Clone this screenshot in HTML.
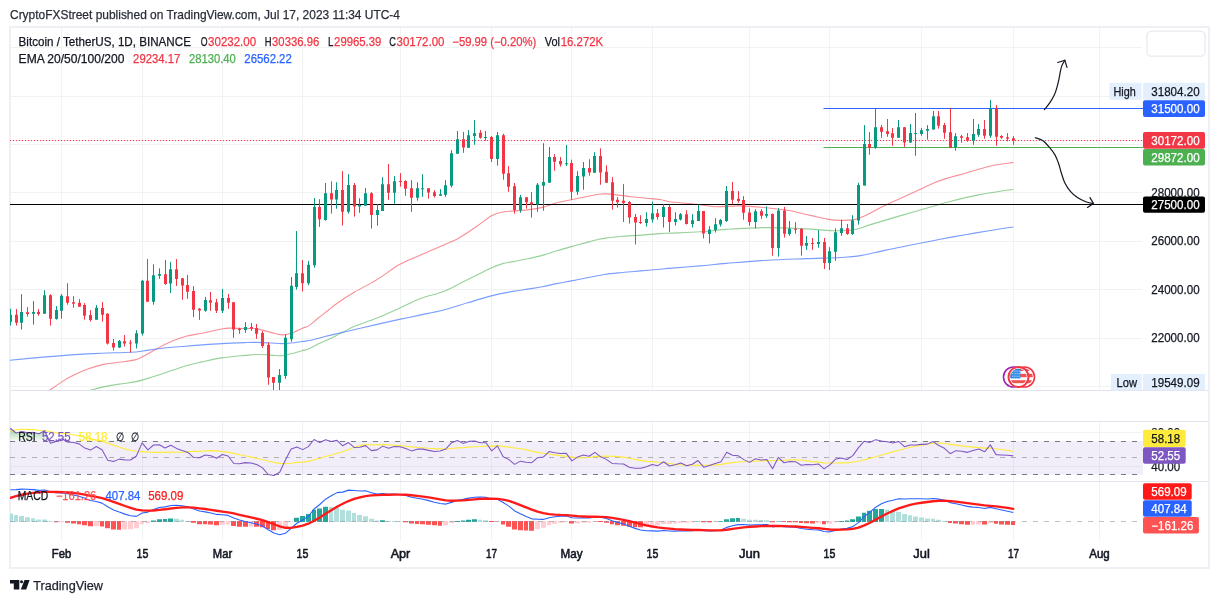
<!DOCTYPE html>
<html><head><meta charset="utf-8"><title>BTCUSDT chart</title>
<style>html,body{margin:0;padding:0;background:#fff;}body{width:1219px;height:603px;overflow:hidden;font-family:"Liberation Sans",sans-serif;}svg{display:block;will-change:transform;}</style></head>
<body>
<svg width="1219" height="603" viewBox="0 0 1219 603" font-family="Liberation Sans, sans-serif">
<rect width="1219" height="603" fill="#fff"/>
<defs><clipPath id="c1"><rect x="10" y="27" width="1133" height="363"/></clipPath><clipPath id="c2"><rect x="10" y="421" width="1133" height="60"/></clipPath><clipPath id="c3"><rect x="10" y="481.5" width="1133" height="58.5"/></clipPath><linearGradient id="gg" x1="0" y1="0" x2="0" y2="1"><stop offset="0" stop-color="#4caf50" stop-opacity="0.55"/><stop offset="1" stop-color="#4caf50" stop-opacity="0.05"/></linearGradient></defs>
<rect x="10" y="27" width="1199" height="541" fill="none" stroke="#eef0f5" stroke-width="2"/>
<path d="M61.5,27V390M61.5,421V481M61.5,481.5V540M142.5,27V390M142.5,421V481M142.5,481.5V540M222.5,27V390M222.5,421V481M222.5,481.5V540M302.5,27V390M302.5,421V481M302.5,481.5V540M400.5,27V390M400.5,421V481M400.5,481.5V540M491.5,27V390M491.5,421V481M491.5,481.5V540M571.5,27V390M571.5,421V481M571.5,481.5V540M652.5,27V390M652.5,421V481M652.5,481.5V540M749.5,27V390M749.5,421V481M749.5,481.5V540M829.5,27V390M829.5,421V481M829.5,481.5V540M921.5,27V390M921.5,421V481M921.5,481.5V540M1013.5,27V390M1013.5,421V481M1013.5,481.5V540M1099.5,27V390M1099.5,421V481M1099.5,481.5V540M11,47.5H1142M11,96.5H1142M11,144.5H1142M11,192.5H1142M11,241.5H1142M11,289.5H1142M11,338.5H1142M11,386.5H1142M11,432.5H1142M11,466.5H1142" stroke="#f1f2f2" stroke-width="1" fill="none"/>
<path d="M11,390.5H1208M11,421.5H1208M11,481.5H1208" stroke="#e0e3eb" stroke-width="1" fill="none"/>
<g clip-path="url(#c1)">
<path d="M49.3,390.5C51.43,389.02 58,384.17 62.1,381.6C66.2,379.03 69.63,377.18 73.9,375.1C78.17,373.02 82.78,370.88 87.7,369.1C92.62,367.32 98.15,365.53 103.4,364.4C108.65,363.27 113.93,363.05 119.2,362.3C124.47,361.55 131.07,360.87 135,359.9C138.93,358.93 139.53,358.13 142.8,356.5C146.07,354.87 150.33,352.38 154.6,350.1C158.87,347.82 163.15,345.1 168.4,342.8C173.65,340.5 180.52,337.88 186.1,336.3C191.68,334.72 195.98,334.52 201.9,333.3C207.82,332.08 217.02,329.87 221.6,329C226.18,328.13 225.5,328.18 229.4,328.1C233.3,328.02 240.4,328.37 245,328.5C249.6,328.63 252.67,328.25 257,328.9C261.33,329.55 266.83,331.4 271,332.4C275.17,333.4 278.67,334.75 282,334.9C285.33,335.05 287.67,334.38 291,333.3C294.33,332.22 299,329.68 302,328.4C305,327.12 306.33,327.3 309,325.6C311.67,323.9 314.73,320.8 318,318.2C321.27,315.6 325.4,312.5 328.6,310C331.8,307.5 332.87,306.2 337.2,303.2C341.53,300.2 347.97,295.93 354.6,292C361.23,288.07 369.53,284.17 377,279.6C384.47,275.03 392.23,268.67 399.4,264.6C406.57,260.53 412.62,258.47 420,255.2C427.38,251.93 437.33,247.8 443.7,245C450.07,242.2 452.73,241.48 458.2,238.4C463.67,235.32 471.02,230.23 476.5,226.5C481.98,222.77 487.15,218.33 491.1,216C495.05,213.67 496.55,213.33 500.2,212.5C503.85,211.67 508.73,211.4 513,211C517.27,210.6 520.93,210.7 525.8,210.1C530.67,209.5 537.03,208.62 542.2,207.4C547.37,206.18 551.93,204.08 556.8,202.8C561.67,201.52 566.53,200.7 571.4,199.7C576.27,198.7 581.43,197.72 586,196.8C590.57,195.88 595.47,194.68 598.8,194.2C602.13,193.72 603.27,193.83 606,193.9C608.73,193.97 610.93,194.12 615.2,194.6C619.47,195.08 626.43,196.2 631.6,196.8C636.77,197.4 641.47,197.75 646.2,198.2C650.93,198.65 655.72,198.87 660,199.5C664.28,200.13 665.23,201.15 671.9,202C678.57,202.85 692.67,203.82 700,204.6C707.33,205.38 709.27,206.48 715.9,206.7C722.53,206.92 731.4,205.73 739.8,205.9C748.2,206.07 758.33,206.97 766.3,207.7C774.27,208.43 780.08,208.98 787.6,210.3C795.12,211.62 804.77,214.13 811.4,215.6C818.03,217.07 822.53,218.3 827.4,219.1C832.27,219.9 836.18,220.32 840.6,220.4C845.02,220.48 849.92,220.32 853.9,219.6C857.88,218.88 859.2,218.53 864.5,216.1C869.8,213.67 877.73,208.83 885.7,205C893.67,201.17 903.45,197.08 912.3,193.1C921.15,189.12 929.97,184.42 938.8,181.1C947.63,177.78 956.45,175.77 965.3,173.2C974.15,170.63 983.9,167.5 991.9,165.7C999.9,163.9 1009.73,162.95 1013.3,162.4" stroke="#f23645" stroke-opacity="0.56" stroke-width="1.1" fill="none"/>
<path d="M89.7,390.5C91.98,389.9 98.48,387.97 103.4,386.9C108.32,385.83 113.93,384.93 119.2,384.1C124.47,383.27 130.4,382.82 135,381.9C139.6,380.98 142.22,379.97 146.8,378.6C151.38,377.23 155.95,375.83 162.5,373.7C169.05,371.57 179.53,367.77 186.1,365.8C192.67,363.83 195.98,363.22 201.9,361.9C207.82,360.58 214.42,358.98 221.6,357.9C228.78,356.82 239.1,355.97 245,355.4C250.9,354.83 252.67,354.55 257,354.5C261.33,354.45 266.83,354.88 271,355.1C275.17,355.32 278.67,356.02 282,355.8C285.33,355.58 287.67,354.63 291,353.8C294.33,352.97 299,351.63 302,350.8C305,349.97 306.33,349.93 309,348.8C311.67,347.67 314.95,345.47 318,344C321.05,342.53 323.27,341.92 327.3,340C331.33,338.08 337.65,334.78 342.2,332.5C346.75,330.22 348.8,328.7 354.6,326.3C360.4,323.9 369.53,321.12 377,318.1C384.47,315.08 392.23,311.43 399.4,308.2C406.57,304.97 412.62,301.5 420,298.7C427.38,295.9 436.72,294.08 443.7,291.4C450.68,288.72 456.43,285.28 461.9,282.6C467.37,279.92 471.63,277.73 476.5,275.3C481.37,272.87 486.85,269.9 491.1,268C495.35,266.1 498.35,264.97 502,263.9C505.65,262.83 508.73,262.45 513,261.6C517.27,260.75 522.73,259.83 527.6,258.8C532.47,257.77 537.33,256.73 542.2,255.4C547.07,254.07 551.93,252.27 556.8,250.8C561.67,249.33 566.53,247.97 571.4,246.6C576.27,245.23 581.43,243.82 586,242.6C590.57,241.38 595.15,240.1 598.8,239.3C602.45,238.5 603.95,238.32 607.9,237.8C611.85,237.28 617.03,236.65 622.5,236.2C627.97,235.75 634.45,235.53 640.7,235.1C646.95,234.67 654.8,233.93 660,233.6C665.2,233.27 665.23,233.4 671.9,233.1C678.57,232.8 690.9,232.42 700,231.8C709.1,231.18 715.45,230.1 726.5,229.4C737.55,228.7 753.03,227.68 766.3,227.6C779.57,227.52 795.03,228.38 806.1,228.9C817.17,229.42 824.73,230.57 832.7,230.7C840.67,230.83 847.72,230.67 853.9,229.7C860.08,228.73 862.28,227.17 869.8,224.9C877.32,222.63 889.72,218.83 899,216.1C908.28,213.37 916.67,211.02 925.5,208.5C934.33,205.98 943.15,203.27 952,201C960.85,198.73 968.38,196.87 978.6,194.9C988.82,192.93 1007.52,190.15 1013.3,189.2" stroke="#4caf50" stroke-opacity="0.58" stroke-width="1.1" fill="none"/>
<path d="M9.9,360.3C14,359.9 25.8,358.68 34.5,357.9C43.2,357.12 52.25,356.32 62.1,355.6C71.95,354.88 82.12,354.17 93.6,353.6C105.08,353.03 122.8,352.63 131,352.2C139.2,351.77 138.2,351.58 142.8,351C147.4,350.42 152.03,349.45 158.6,348.7C165.17,347.95 174.98,347.13 182.2,346.5C189.42,345.87 195.33,345.38 201.9,344.9C208.47,344.42 214.42,343.98 221.6,343.6C228.78,343.22 239.1,342.8 245,342.6C250.9,342.4 252.67,342.33 257,342.4C261.33,342.47 266.83,342.8 271,343C275.17,343.2 278.67,343.6 282,343.6C285.33,343.6 287.67,343.35 291,343C294.33,342.65 298.45,342 302,341.5C305.55,341 308.47,340.83 312.3,340C316.13,339.17 320.02,337.75 325,336.5C329.98,335.25 333.53,334.52 342.2,332.5C350.87,330.48 367.47,326.58 377,324.4C386.53,322.22 392.23,320.95 399.4,319.4C406.57,317.85 412.62,316.67 420,315.1C427.38,313.53 435.77,312.05 443.7,310C451.63,307.95 459.65,305.15 467.6,302.8C475.55,300.45 483.88,297.8 491.4,295.9C498.92,294 506.37,292.57 512.7,291.4C519.03,290.23 524.48,289.67 529.4,288.9C534.32,288.13 537.63,287.68 542.2,286.8C546.77,285.92 551.93,284.58 556.8,283.6C561.67,282.62 566.53,281.83 571.4,280.9C576.27,279.97 580.53,279.07 586,278C591.47,276.93 598.12,275.42 604.2,274.5C610.28,273.58 616.42,273.1 622.5,272.5C628.58,271.9 634.45,271.45 640.7,270.9C646.95,270.35 654.8,269.67 660,269.2C665.2,268.73 665.23,268.65 671.9,268.1C678.57,267.55 690.9,266.68 700,265.9C709.1,265.12 715.45,264.35 726.5,263.4C737.55,262.45 753.03,261 766.3,260.2C779.57,259.4 793.72,259.05 806.1,258.6C818.48,258.15 831.75,257.95 840.6,257.5C849.45,257.05 851.68,257.13 859.2,255.9C866.72,254.67 876.85,251.95 885.7,250.1C894.55,248.25 903.45,246.57 912.3,244.8C921.15,243.03 929.97,241.18 938.8,239.5C947.63,237.82 956.45,236.25 965.3,234.7C974.15,233.15 983.9,231.48 991.9,230.2C999.9,228.92 1009.73,227.53 1013.3,227" stroke="#2962ff" stroke-opacity="0.62" stroke-width="1.1" fill="none"/>
<path d="M10,204.5H1143" stroke="#000" stroke-width="1.1"/>
<path d="M823.5,108.5H1143" stroke="#2962ff" stroke-width="1.1"/>
<path d="M823.5,147.5H1143" stroke="#4caf50" stroke-width="1.1"/>
<path d="M10,140.5H1143" stroke="#f23645" stroke-width="1.2" stroke-dasharray="1.3 1.7" stroke-dashoffset="0.15"/>
<path d="M10.5,308.71V325.62M21.5,294.18V329.6M33.5,301.14V324.63M44.5,290.2V313.68M56.5,306.12V319.65M61.5,294.18V318.66M96.5,305.12V319.65M119.5,339.95V347.91M136.5,330.2V348.51M142.5,279.85V335.57M153.5,264.33V304.73M159.5,268.31V278.86M170.5,261.89V293.07M205.5,296.88V311.81M222.5,288.92V312.97M245.5,322.09V332.87M279.5,369.14V391.57M285.5,334.2V378.92M291.5,277.06V341.74M296.5,231.04V289.5M308.5,260.9V285.27M314.5,197.96V267.61M325.5,183.03V220.69M336.5,182.22V208.73M348.5,174.2V213.62M359.5,198.26V212.81M365.5,188.06V205.74M377.5,204.11V225.72M382.5,177.19V210.9M394.5,176.1V203.7M417.5,182.22V200.71M422.5,174.2V196.9M440.5,189.15V195.81M445.5,180.18V196.9M451.5,150.15V187.55M457.5,130.99V153.8M468.5,130.07V147.77M474.5,120.04V144.67M485.5,130.99V140.66M497.5,131.9V165.66M520.5,194.85V212.74M537.5,182.99V211.82M543.5,143.21V210.73M549.5,147.04V182.63M566.5,145.04V166.02M577.5,171.13V194.85M583.5,162.01V189.74M594.5,152.31V172.81M646.5,212.21V226.54M652.5,201.67V222.56M663.5,204.25V227.54M675.5,212.21V225.55M680.5,213.01V220.57M692.5,214.2V227.54M698.5,204.65V220.97M709.5,226.14V243.46M715.5,218.18V232.51M720.5,218.98V226.54M726.5,185.99V221.93M755.5,209.16V228.5M766.5,206.42V217.92M778.5,208.25V256.61M789.5,221.02V235.8M806.5,236.17V249.85M818.5,230.15V247.66M829.5,247.12V269.93M835.5,228.32V260.8M841.5,219.74V235.8M852.5,215.18V234.89M858.5,182.8V224.6M864.5,125.1V185.6M875.5,108.7V148.75M898.5,119.96V137.72M910.5,124.02V142.83M915.5,112.99V155.72M921.5,128.09V135.86M927.5,125.18V139.69M933.5,111.02V129.59M955.5,133.08V150.72M973.5,119.01V144.79M978.5,124.12V136.89M990.5,100.09V137.82" stroke="#089981" stroke-width="1" fill="none"/>
<path d="M16.5,309.1V325.62M27.5,307.11V316.67M38.5,309.1V315.67M50.5,294.18V325.62M67.5,283.23V304.73M73.5,296.17V307.71M79.5,299.15V306.72M84.5,303.13V319.65M90.5,310.1V321.64M102.5,302.14V321.64M107.5,313.08V344.53M113.5,338.96V350.5M124.5,334.98V346.52M130.5,339.95V352.49M147.5,258.96V301.74M165.5,259.9V284.78M176.5,259.07V285.94M182.5,278.14V299.7M187.5,274.83V298.87M193.5,286.1V317.11M199.5,307.99V319.93M210.5,291.91V310.81M216.5,298.87V312.97M228.5,293.9V308.82M233.5,302.19V337.84M239.5,327.89V333.7M251.5,322.92V330.88M256.5,324V338.82M262.5,331.07V347.79M268.5,342.22V384.77M273.5,377.02V391.57M302.5,260.15V291.49M319.5,199.2V226.82M331.5,181.27V213.62M342.5,171.07V225.45M354.5,183.03V216.61M371.5,192.14V228.58M388.5,164V199.89M400.5,173.11V186.7M405.5,180.18V195.81M411.5,180.18V211.85M428.5,188.34V198.67M434.5,190.1V197.58M463.5,131.9V152.88M480.5,130.07V138.65M491.5,135.91V162.01M503.5,133.72V179.71M508.5,166.2V191.75M514.5,182.99V213.65M526.5,197.23V208.54M531.5,192.12V217.66M554.5,154.16V170.77M560.5,157.08V166.57M571.5,159.64V199.78M589.5,159.27V175.69M600.5,148.33V184.75M606.5,165.25V182.76M612.5,177.19V209.63M617.5,197.09V207.64M623.5,184.15V221.97M629.5,201.07V223.56M635.5,214V244.45M640.5,215.2V223.96M657.5,209.03V219.58M669.5,204.65V231.92M686.5,210.22V224.55M703.5,211.02V238.48M732.5,181.97V204.23M738.5,191.09V202.77M743.5,196.02V219.74M749.5,208.25V225.77M761.5,209.16V218.83M772.5,213.36V255.69M784.5,206.97V237.63M795.5,222.12V233.8M801.5,227.96V255.69M812.5,237.99V249.85M824.5,237.99V269.01M847.5,223.94V234.89M869.5,132.15V154.79M881.5,124.95V137.72M887.5,119.03V136.79M892.5,128.09V145.73M904.5,127.16V146.89M938.5,111.02V128.67M944.5,122.86V138.77M950.5,108.12V147.82M961.5,134.82V142.83M967.5,133.08V141.78M984.5,120.06V138.75M996.5,105.08V145.72M1001.5,135.15V138.75M1007.5,133.18V141.3M1013.5,136.08V144.79" stroke="#f23645" stroke-width="1" fill="none"/>
<path d="M9,314.68h3V321.64h-3zM20,312.09h3V322.64h-3zM32,312.09h3V313.68h-3zM43,295.17h3V313.68h-3zM55,310.1h3V319.05h-3zM60,295.77h3V310.7h-3zM95,307.71h3V319.65h-3zM118,340.95h3V347.51h-3zM135,333.18h3V343.53h-3zM141,280.85h3V333.58h-3zM152,275.27h3V301.74h-3zM158,273.88h3V275.87h-3zM169,269.35h3V283.45h-3zM204,300.03h3V310.81h-3zM221,298.04h3V310.81h-3zM244,327.06h3V330.05h-3zM278,374.98h3V382.73h-3zM284,337.87h3V375.93h-3zM290,285.77h3V339.25h-3zM295,273.33h3V287.01h-3zM307,264.63h3V283.28h-3zM313,206.92h3V265.37h-3zM324,193.23h3V220.01h-3zM335,190.1h3V199.62h-3zM347,185.07h3V211.85h-3zM358,205.06h3V206.42h-3zM364,193.23h3V205.74h-3zM376,210.09h3V214.98h-3zM381,184.26h3V210.9h-3zM393,181.27h3V192.82h-3zM416,188.34h3V197.85h-3zM421,188.34h3V189.34h-3zM439,194.18h3V195.81h-3zM444,185.35h3V194.86h-3zM450,153.25h3V185.73h-3zM456,139.2h3V153.8h-3zM467,135.18h3V147.77h-3zM473,133.18h3V135.91h-3zM484,137.01h3V138.01h-3zM496,135.18h3V158.91h-3zM519,197.23h3V210.36h-3zM536,184.82h3V204.53h-3zM542,182.08h3V185.73h-3zM548,157.08h3V182.63h-3zM565,163.28h3V164.28h-3zM576,176.06h3V191.75h-3zM582,168.03h3V176.61h-3zM593,155.9h3V172.81h-3zM645,218.98h3V222.96h-3zM651,213.21h3V219.58h-3zM662,207.04h3V216.99h-3zM674,218.98h3V221.97h-3zM679,214.2h3V219.58h-3zM691,220.17h3V223.96h-3zM697,211.02h3V220.97h-3zM708,229.53h3V233.91h-3zM714,224.15h3V229.93h-3zM719,219.98h3V224.55h-3zM725,191.09h3V221.02h-3zM754,211.17h3V221.93h-3zM765,213.91h3V215.73h-3zM777,210.62h3V248.03h-3zM788,228.87h3V233.98h-3zM805,243.1h3V245.66h-3zM817,242.01h3V244.01h-3zM828,251.31h3V262.99h-3zM834,232.15h3V251.68h-3zM840,228.32h3V232.88h-3zM851,220.29h3V233.98h-3zM857,184.9h3V220.6h-3zM863,144h3V185.6h-3zM874,127.16h3V147.82h-3zM897,127.16h3V137.72h-3zM909,133.08h3V142.6h-3zM914,132.96h3V133.96h-3zM920,130.18h3V134.12h-3zM926,129.01h3V130.76h-3zM932,116.13h3V129.59h-3zM954,136.21h3V147.24h-3zM972,134.11h3V140.72h-3zM977,129.11h3V134.69h-3zM989,108.8h3V135.73h-3z" fill="#089981"/>
<path d="M15,314.68h3V322.64h-3zM26,312.29h3V314.08h-3zM37,312.09h3V314.08h-3zM49,295.17h3V318.66h-3zM66,296.17h3V302.74h-3zM72,302.14h3V303.73h-3zM78,302.74h3V306.72h-3zM83,305.12h3V315.67h-3zM89,315.07h3V320.05h-3zM101,308.11h3V314.68h-3zM106,313.68h3V343.53h-3zM112,342.94h3V347.51h-3zM123,341.14h3V343.53h-3zM129,342.54h3V343.54h-3zM146,280.85h3V301.74h-3zM164,274.33h3V283.95h-3zM175,269.35h3V278.97h-3zM181,278.14h3V285.61h-3zM186,285.11h3V291.74h-3zM192,291.08h3V309.65h-3zM198,308.82h3V310.48h-3zM209,300.2h3V302.69h-3zM215,302.19h3V310.81h-3zM227,298.04h3V302.69h-3zM232,302.19h3V329.55h-3zM238,328.72h3V330.05h-3zM250,327.06h3V328.72h-3zM255,328.08h3V333.79h-3zM261,333.11h3V346.03h-3zM267,344.67h3V377.56h-3zM272,377.02h3V382.73h-3zM301,273.33h3V283.28h-3zM318,206.92h3V219.35h-3zM330,193.23h3V199.62h-3zM341,190.1h3V211.85h-3zM353,185.07h3V206.42h-3zM370,193.23h3V214.98h-3zM387,184.26h3V192.82h-3zM399,181h3V182h-3zM404,181h3V188.74h-3zM410,188.34h3V197.85h-3zM427,188.34h3V192.41h-3zM433,192.14h3V195.95h-3zM462,139.2h3V147.41h-3zM479,132.81h3V137.74h-3zM490,137.01h3V158.91h-3zM502,135.18h3V173.87h-3zM507,173.32h3V186.64h-3zM513,186.28h3V210.36h-3zM525,197.23h3V202.15h-3zM530,202.15h3V204.53h-3zM553,157.08h3V161.64h-3zM559,161.09h3V164.2h-3zM570,162.92h3V191.75h-3zM588,168.03h3V172.59h-3zM599,155.9h3V172.41h-3zM605,171.82h3V182.76h-3zM611,182.16h3V200.67h-3zM616,199.68h3V202.26h-3zM622,200.67h3V203.06h-3zM628,202.06h3V217.59h-3zM634,216.99h3V222.56h-3zM639,221.97h3V222.97h-3zM656,213.21h3V216.99h-3zM668,207.04h3V221.97h-3zM685,214.2h3V223.96h-3zM702,211.02h3V233.51h-3zM731,191.09h3V199.67h-3zM737,198.76h3V200.95h-3zM742,200.04h3V212.81h-3zM748,212.45h3V221.93h-3zM760,211.17h3V215.73h-3zM771,213.91h3V248.03h-3zM783,210.62h3V233.8h-3zM794,228.87h3V229.87h-3zM800,228.87h3V245.66h-3zM811,243.1h3V244.1h-3zM823,242.01h3V262.99h-3zM846,228.32h3V233.98h-3zM868,143.99h3V147.82h-3zM880,127.16h3V131.8h-3zM886,131.22h3V133.89h-3zM891,133.31h3V137.72h-3zM903,127.16h3V142.6h-3zM937,116.13h3V125.76h-3zM943,124.95h3V132.73h-3zM949,132.15h3V147.82h-3zM960,136.21h3V137.72h-3zM966,137.37h3V140.86h-3zM983,129.11h3V135.73h-3zM995,108.8h3V136.66h-3zM1000,136.08h3V137.82h-3zM1006,137.24h3V138.75h-3zM1012,138.17h3V140.49h-3z" fill="#f23645"/>
</g>
<g stroke="#131722" stroke-width="1.2" fill="none" stroke-linecap="round" stroke-linejoin="round">
<path d="M1044.4,109.7C1045.32,108.53 1048.23,105.18 1049.9,102.7C1051.57,100.22 1053.25,97.28 1054.4,94.8C1055.55,92.32 1056.07,90.28 1056.8,87.8C1057.53,85.32 1058.22,82.55 1058.8,79.9C1059.38,77.25 1059.8,74.23 1060.3,71.9C1060.8,69.57 1061.05,67.85 1061.8,65.9C1062.55,63.95 1064.3,61.15 1064.8,60.2"/><path d="M1057.8,62.5L1064.8,60.2L1067,67.4"/>
<path d="M1035.3,137.7C1036.52,138.17 1040.23,138.88 1042.6,140.5C1044.97,142.12 1047.42,144.97 1049.5,147.4C1051.58,149.83 1053.58,152.42 1055.1,155.1C1056.62,157.78 1057.55,160.48 1058.6,163.5C1059.65,166.52 1060.35,169.95 1061.4,173.2C1062.45,176.45 1063.4,179.97 1064.9,183C1066.4,186.03 1068.32,188.97 1070.4,191.4C1072.48,193.83 1074.83,195.87 1077.4,197.6C1079.97,199.33 1083.12,200.8 1085.8,201.8C1088.48,202.8 1092.22,203.3 1093.5,203.6"/><path d="M1090,197.6L1093.5,203.6L1087.5,207.4"/>
</g>
<circle cx="1013.5" cy="377" r="10" fill="#fff" stroke="#9c27b0" stroke-width="1.6"/>
<circle cx="1024.5" cy="377" r="10" fill="#fff" stroke="#f23645" stroke-width="1.6"/><clipPath id="fl2"><circle cx="1024.5" cy="377" r="8.3"/></clipPath><g clip-path="url(#fl2)"><rect x="1016.0" y="368" width="17" height="18" fill="#fff"/><rect x="1016.0" y="368" width="17" height="3" fill="#ef5350"/><rect x="1016.0" y="373.8" width="17" height="3.4" fill="#ef5350"/><rect x="1016.0" y="380.2" width="17" height="3" fill="#ef5350"/><rect x="1016.0" y="368" width="10.4" height="10.4" fill="#2e8be6"/><rect x="1018.3" y="370.7" width="1" height="1" fill="#fff" fill-opacity="0.85"/><rect x="1020.45" y="370.7" width="1" height="1" fill="#fff" fill-opacity="0.85"/><rect x="1022.6" y="370.7" width="1" height="1" fill="#fff" fill-opacity="0.85"/><rect x="1024.75" y="370.7" width="1" height="1" fill="#fff" fill-opacity="0.85"/><rect x="1018.3" y="373.2" width="1" height="1" fill="#fff" fill-opacity="0.85"/><rect x="1020.45" y="373.2" width="1" height="1" fill="#fff" fill-opacity="0.85"/><rect x="1022.6" y="373.2" width="1" height="1" fill="#fff" fill-opacity="0.85"/><rect x="1024.75" y="373.2" width="1" height="1" fill="#fff" fill-opacity="0.85"/><rect x="1018.3" y="375.7" width="1" height="1" fill="#fff" fill-opacity="0.85"/><rect x="1020.45" y="375.7" width="1" height="1" fill="#fff" fill-opacity="0.85"/><rect x="1022.6" y="375.7" width="1" height="1" fill="#fff" fill-opacity="0.85"/><rect x="1024.75" y="375.7" width="1" height="1" fill="#fff" fill-opacity="0.85"/></g>
<circle cx="1018.5" cy="377" r="10" fill="#fff" stroke="#f23645" stroke-width="1.9"/><clipPath id="fl1"><circle cx="1018.5" cy="377" r="8.3"/></clipPath><g clip-path="url(#fl1)"><rect x="1010.0" y="368" width="17" height="18" fill="#fff"/><rect x="1010.0" y="368" width="17" height="3" fill="#ef5350"/><rect x="1010.0" y="373.8" width="17" height="3.4" fill="#ef5350"/><rect x="1010.0" y="380.2" width="17" height="3" fill="#ef5350"/><rect x="1010.0" y="368" width="10.4" height="10.4" fill="#2e8be6"/><rect x="1012.3" y="370.7" width="1" height="1" fill="#fff" fill-opacity="0.85"/><rect x="1014.45" y="370.7" width="1" height="1" fill="#fff" fill-opacity="0.85"/><rect x="1016.6" y="370.7" width="1" height="1" fill="#fff" fill-opacity="0.85"/><rect x="1018.75" y="370.7" width="1" height="1" fill="#fff" fill-opacity="0.85"/><rect x="1012.3" y="373.2" width="1" height="1" fill="#fff" fill-opacity="0.85"/><rect x="1014.45" y="373.2" width="1" height="1" fill="#fff" fill-opacity="0.85"/><rect x="1016.6" y="373.2" width="1" height="1" fill="#fff" fill-opacity="0.85"/><rect x="1018.75" y="373.2" width="1" height="1" fill="#fff" fill-opacity="0.85"/><rect x="1012.3" y="375.7" width="1" height="1" fill="#fff" fill-opacity="0.85"/><rect x="1014.45" y="375.7" width="1" height="1" fill="#fff" fill-opacity="0.85"/><rect x="1016.6" y="375.7" width="1" height="1" fill="#fff" fill-opacity="0.85"/><rect x="1018.75" y="375.7" width="1" height="1" fill="#fff" fill-opacity="0.85"/></g>
<g clip-path="url(#c2)">
<rect x="10" y="441.1" width="1133" height="33.5" fill="#7e57c2" fill-opacity="0.1"/>
<path d="M10,441.5H1140" stroke="#787b86" stroke-width="1.2" stroke-dasharray="5 6"/>
<path d="M10,474.5H1140" stroke="#787b86" stroke-width="1.2" stroke-dasharray="5 6"/>
<path d="M10,457.5H1140" stroke="#787b86" stroke-opacity="0.55" stroke-width="1" stroke-dasharray="5 6"/>
<path d="M10.32,441.1L10.32,428.23 16.05,432.99 21.78,431.51 27.51,432.7 33.24,432.39 38.98,433.69 44.71,430.76 50.44,441.1 56.17,441.1 61.9,438.72 67.63,441.1 73.36,441.1 79.09,441.1 84.82,441.1 90.56,441.1 96.29,441.1 102.02,441.1 107.75,441.1 113.48,441.1 119.21,441.1 124.94,441.1 130.67,441.1 136.4,441.1 142.13,441.1 147.87,441.1 153.6,441.1 159.33,441.1 165.06,441.1 170.79,441.1 176.52,441.1 182.25,441.1 187.98,441.1 193.71,441.1 199.44,441.1 205.18,441.1 210.91,441.1 216.64,441.1 222.37,441.1 228.1,441.1 233.83,441.1 239.56,441.1 245.29,441.1 251.02,441.1 256.75,441.1 262.49,441.1 268.22,441.1 273.95,441.1 279.68,441.1 285.41,441.1 291.14,441.1 296.87,441.1 302.6,441.1 308.33,441.1 314.06,439.52 319.79,441.1 325.53,439.84 331.26,441.1 336.99,440.39 342.72,441.1 348.45,441.1 354.18,441.1 359.91,441.1 365.64,441.1 371.37,441.1 377.1,441.1 382.84,441.1 388.57,441.1 394.3,441.1 400.03,441.1 405.76,441.1 411.49,441.1 417.22,441.1 422.95,441.1 428.68,441.1 434.41,441.1 440.15,441.1 445.88,441.1 451.61,441.1 457.34,440.47 463.07,441.1 468.8,441.1 474.53,441.05 480.26,441.1 485.99,441.1 491.72,441.1 497.46,441.1 503.19,441.1 508.92,441.1 514.65,441.1 520.38,441.1 526.11,441.1 531.84,441.1 537.57,441.1 543.3,441.1 549.03,441.1 554.77,441.1 560.5,441.1 566.23,441.1 571.96,441.1 577.69,441.1 583.42,441.1 589.15,441.1 594.88,441.1 600.61,441.1 606.34,441.1 612.08,441.1 617.81,441.1 623.54,441.1 629.27,441.1 635,441.1 640.73,441.1 646.46,441.1 652.19,441.1 657.92,441.1 663.65,441.1 669.39,441.1 675.12,441.1 680.85,441.1 686.58,441.1 692.31,441.1 698.04,441.1 703.77,441.1 709.5,441.1 715.23,441.1 720.96,441.1 726.7,441.1 732.43,441.1 738.16,441.1 743.89,441.1 749.62,441.1 755.35,441.1 761.08,441.1 766.81,441.1 772.54,441.1 778.27,441.1 784.01,441.1 789.74,441.1 795.47,441.1 801.2,441.1 806.93,441.1 812.66,441.1 818.39,441.1 824.12,441.1 829.85,441.1 835.58,441.1 841.32,441.1 847.05,441.1 852.78,441.1 858.51,441.1 864.24,441.1 869.97,441.1 875.7,439.65 881.43,441.1 887.16,441.1 892.89,441.1 898.63,441.1 904.36,441.1 910.09,441.1 915.82,441.1 921.55,441.1 927.28,441.1 933.01,441.1 938.74,441.1 944.47,441.1 950.2,441.1 955.94,441.1 961.67,441.1 967.4,441.1 973.13,441.1 978.86,441.1 984.59,441.1 990.32,441.1 996.05,441.1 1001.78,441.1 1007.51,441.1 1013.25,441.1L1013.25,441.1z" fill="url(#gg)"/>
<polyline points="10.32,430.86 16.05,429.91 21.78,429.32 27.51,429.33 33.24,429.65 38.98,430.25 44.71,430.54 50.44,431.78 56.17,432.82 61.9,433.11 67.63,433.76 73.36,434.78 79.09,435.92 84.82,437.29 90.56,438.85 96.29,439.82 102.02,441.12 107.75,443.09 113.48,445.16 119.21,446.98 124.94,449.07 130.67,450.26 136.4,451.3 142.13,451.6 147.87,452.17 153.6,452.36 159.33,452.42 165.06,452.41 170.79,452.07 176.52,452.21 182.25,452.26 187.98,451.7 193.71,451.42 199.44,451.33 205.18,450.97 210.91,450.66 216.64,450.82 222.37,451.65 228.1,452.09 233.83,453.41 239.56,454.76 245.29,455.8 251.02,457.07 256.75,458.22 262.49,459.47 268.22,461.05 273.95,462.33 279.68,463.36 285.41,463.71 291.14,463.23 296.87,462.43 302.6,462.09 308.33,461.41 314.06,459.7 319.79,458.19 325.53,456.56 331.26,455.02 336.99,453.29 342.72,451.71 348.45,449.43 354.18,447.43 359.91,445.64 365.64,444.62 371.37,444.74 377.1,444.94 382.84,444.69 388.57,444.8 394.3,445.3 400.03,445.59 405.76,446.2 411.49,446.88 417.22,447.5 422.95,447.74 428.68,448.3 434.41,448.59 440.15,448.86 445.88,449.1 451.61,448.53 457.34,447.86 463.07,447.66 468.8,447.18 474.53,446.79 480.26,446.52 485.99,446.1 491.72,446.1 497.46,445.87 503.19,446.41 508.92,447.07 514.65,447.99 520.38,448.72 526.11,449.66 531.84,451.09 537.57,452.32 543.3,453.3 549.03,454.03 554.77,454.87 560.5,455.63 566.23,456.39 571.96,457.1 577.69,457.89 583.42,457.77 589.15,457.53 594.88,456.67 600.61,456.36 606.34,456.16 612.08,456.21 617.81,456.64 623.54,457.13 629.27,458.25 635,459.35 640.73,460.41 646.46,461.37 652.19,461.64 657.92,462.27 663.65,462.75 669.39,463.45 675.12,464.34 680.85,464.78 686.58,465.24 692.31,465.3 698.04,465.07 703.77,465.3 709.5,465.19 715.23,464.84 720.96,464.37 726.7,463.33 732.43,462.66 738.16,461.95 743.89,461.79 749.62,461.53 755.35,461.09 761.08,460.89 766.81,460.43 772.54,460.76 778.27,460.53 784.01,460.22 789.74,459.92 795.47,459.8 801.2,460.05 806.93,460.92 812.66,461.59 818.39,462.18 824.12,462.85 829.85,463.03 835.58,463.05 841.32,462.9 847.05,462.9 852.78,461.96 858.51,461.25 864.24,459.72 869.97,458.36 875.7,456.78 881.43,455.06 887.16,453.44 892.89,451.9 898.63,450.29 904.36,448.7 910.09,447.28 915.82,446.27 921.55,445.3 927.28,444.2 933.01,443.2 938.74,443.05 944.47,443.55 950.2,444.36 955.94,445.15 961.67,445.87 967.4,446.62 973.13,447.14 978.86,447.69 984.59,448.06 990.32,448.05 996.05,448.75 1001.78,449.51 1007.51,450.3 1013.25,451.32" stroke="#ffeb3b" stroke-width="1.15" fill="none" stroke-linejoin="round"/>
<polyline points="10.32,428.23 16.05,432.99 21.78,431.51 27.51,432.7 33.24,432.39 38.98,433.69 44.71,430.76 50.44,443.25 56.17,441.44 61.9,438.72 67.63,441.95 73.36,442.42 79.09,443.88 84.82,448.12 90.56,450.11 96.29,446.54 102.02,449.72 107.75,460.24 113.48,461.44 119.21,459.12 124.94,459.98 130.67,459.98 136.4,456.03 142.13,442.89 147.87,449.92 153.6,445.02 159.33,444.78 165.06,448.05 170.79,445.32 176.52,448.41 182.25,450.49 187.98,452.4 193.71,457.54 199.44,457.77 205.18,454.92 210.91,455.74 216.64,458.24 222.37,454.53 228.1,456.03 233.83,463.53 239.56,463.65 245.29,462.63 251.02,463.1 256.75,464.57 262.49,467.9 268.22,474.52 273.95,475.42 279.68,472.2 285.41,459.93 291.14,449.03 296.87,447.05 302.6,449.63 308.33,446.6 314.06,439.52 319.79,442.59 325.53,439.84 331.26,441.42 336.99,440.39 342.72,445.79 348.45,442.58 354.18,447.42 359.91,447.24 365.64,445.63 371.37,450.63 377.1,449.87 382.84,446.12 388.57,448.16 394.3,446.47 400.03,446.65 405.76,448.47 411.49,450.89 417.22,449.13 422.95,449.13 428.68,450.37 434.41,451.47 440.15,451.05 445.88,448.94 451.61,442.66 457.34,440.47 463.07,443.39 468.8,441.38 474.53,441.05 480.26,442.83 485.99,442.69 491.72,450.9 497.46,445.88 503.19,456.73 508.92,459.6 514.65,464.34 520.38,461.16 526.11,462.16 531.84,462.65 537.57,457.71 543.3,457.06 549.03,451.6 554.77,452.83 560.5,453.53 566.23,453.32 571.96,460.87 577.69,456.91 583.42,455.02 589.15,456.25 594.88,452.31 600.61,456.79 606.34,459.36 612.08,463.41 617.81,463.76 623.54,463.94 629.27,467.2 635,468.26 640.73,468.35 646.46,466.82 652.19,464.6 657.92,465.65 663.65,461.77 669.39,466.02 675.12,464.84 680.85,462.94 686.58,465.84 692.31,464.25 698.04,460.54 703.77,467.16 709.5,465.56 715.23,463.41 720.96,461.75 726.7,452.28 732.43,455.22 738.16,455.66 743.89,459.62 749.62,462.39 755.35,458.64 761.08,460.1 766.81,459.44 772.54,468.83 778.27,457.42 784.01,462.74 789.74,461.44 795.47,461.65 801.2,465.24 806.93,464.45 812.66,464.66 818.39,463.96 824.12,468.94 829.85,464.86 835.58,459.01 841.32,457.93 847.05,459.54 852.78,455.57 858.51,447.57 864.24,441.22 869.97,442.38 875.7,439.65 881.43,441.11 887.16,441.8 892.89,443.11 898.63,441.4 904.36,446.65 910.09,444.92 915.82,444.9 921.55,444.36 927.28,444.12 933.01,441.57 938.74,445.53 944.47,448.26 950.2,453.67 955.94,450.65 961.67,451.19 967.4,452.37 973.13,450.43 978.86,449.03 984.59,451.81 990.32,444.87 996.05,454.61 1001.78,454.96 1007.51,455.27 1013.25,455.87" stroke="#7e57c2" stroke-width="1.05" fill="none" stroke-linejoin="round"/>
</g>
<g clip-path="url(#c3)">
<path d="M151,520.55H156V522H151zM157,519.14H162V522H157zM163,519.07H167V522H163zM168,518.41H173V522H168zM294,517.83H299V522H294zM300,516.01H305V522H300zM306,514.03H311V522H306zM312,509.77H316V522H312zM317,508.45H322V522H317zM323,506.81H328V522H323zM380,520.32H385V522H380zM455,521.12H460V522H455zM461,520.52H465V522H461zM466,519.68H471V522H466zM472,519.32H477V522H472zM696,521.46H700V522H696zM718,521.26H723V522H718zM724,519.13H729V522H724zM730,518.35H735V522H730zM736,518.03H740V522H736zM776,521.39H781V522H776zM839,521.02H844V522H839zM845,520.5H849V522H845zM850,519.35H855V522H850zM856,516.59H861V522H856zM862,512.67H866V522H862zM867,510.86H872V522H867zM873,509.06H878V522H873zM879,508.88H884V522H879z" fill="#26a69a"/>
<path d="M8,513.45H13V522H8zM14,515H18V522H14zM19,515.92H24V522H19zM25,517.15H30V522H25zM31,518.29H35V522H31zM36,519.55H41V522H36zM42,519.59H47V522H42zM48,521.37H53V522H48zM174,518.84H179V522H174zM180,519.76H184V522H180zM185,520.92H190V522H185zM329,507H333V522H329zM334,507.42H339V522H334zM340,509.83H345V522H340zM346,510.55H351V522H346zM352,513.01H356V522H352zM357,515.12H362V522H357zM363,516.3H368V522H363zM369,518.83H374V522H369zM375,520.5H379V522H375zM386,521.02H391V522H386zM392,521.05H397V522H392zM398,521.38H402V522H398zM478,519.69H482V522H478zM483,520.17H488V522H483zM741,518.65H746V522H741zM747,519.67H752V522H747zM753,519.72H758V522H753zM759,520.07H763V522H759zM764,520.22H769V522H764zM885,509.59H889V522H885zM890,510.96H895V522H890zM896,511.85H901V522H896zM902,513.94H907V522H902zM908,515.22H912V522H908zM913,516.5H918V522H913zM919,517.56H924V522H919zM925,518.53H930V522H925zM931,518.72H935V522H931zM936,519.74H941V522H936zM942,521.06H947V522H942z" fill="#b2dfdb"/>
<path d="M59,521H64V522.2H59zM94,521H99V526.12H94zM122,521H127V529.62H122zM128,521H133V529.31H128zM134,521H139V528.23H134zM140,521H144V524.23H140zM145,521H150V522.91H145zM220,521H225V524.68H220zM226,521H230V524.57H226zM249,521H253V526.77H249zM277,521H282V529.89H277zM283,521H288V527.06H283zM289,521H293V521.88H289zM443,521H448V525.28H443zM449,521H454V523.16H449zM495,521H500V521.99H495zM535,521H540V529.19H535zM541,521H546V527.78H541zM547,521H551V525.17H547zM552,521H557V523.69H552zM558,521H563V522.85H558zM564,521H568V522.26H564zM575,521H580V523.43H575zM581,521H586V522.82H581zM587,521H591V522.67H587zM592,521H597V521.59H592zM644,521H649V526.86H644zM650,521H654V525.89H650zM655,521H660V525.22H655zM661,521H666V523.98H661zM667,521H672V523.88H667zM673,521H677V523.45H673zM678,521H683V522.73H678zM684,521H689V522.72H684zM690,521H695V522.35H690zM713,521H717V521.85H713zM816,521H821V523.2H816zM827,521H832V523.82H827zM833,521H838V522.31H833zM971,521H975V524.7H971zM976,521H981V524.38H976zM988,521H993V523.08H988z" fill="#ffcdd2"/>
<path d="M54,521H58V522.26H54zM65,521H70V522.8H65zM71,521H76V523.43H71zM77,521H81V524.16H77zM82,521H87V525.25H82zM88,521H93V526.24H88zM100,521H104V526.43H100zM105,521H110V528.27H105zM111,521H116V529.5H111zM117,521H121V529.64H117zM191,521H196V522.85H191zM197,521H202V524.17H197zM203,521H207V524.36H203zM208,521H213V524.59H208zM214,521H219V525.16H214zM231,521H236V526H231zM237,521H242V526.76H237zM243,521H248V526.85H243zM254,521H259V526.78H254zM260,521H265V527.25H260zM266,521H270V529.1H266zM271,521H276V530.16H271zM403,521H408V522.23H403zM409,521H414V523.51H409zM415,521H419V523.88H415zM420,521H425V524.23H420zM426,521H431V524.76H426zM432,521H437V525.36H432zM438,521H442V525.64H438zM489,521H494V522.04H489zM501,521H505V524.42H501zM506,521H511V526.73H506zM512,521H517V529.49H512zM518,521H523V530.2H518zM524,521H528V530.62H524zM529,521H534V530.68H529zM569,521H574V523.58H569zM598,521H603V521.91H598zM604,521H609V522.74H604zM610,521H614V524.29H610zM615,521H620V525.24H615zM621,521H626V525.71H621zM627,521H632V526.65H627zM633,521H637V527.27H633zM638,521H643V527.36H638zM701,521H706V522.14H701zM707,521H712V522.23H707zM770,521H775V522.34H770zM782,521H786V522.12H782zM787,521H792V522.21H787zM793,521H798V522.24H793zM799,521H803V523.11H799zM804,521H809V523.37H804zM810,521H815V523.43H810zM822,521H826V524.13H822zM948,521H952V522.99H948zM953,521H958V523.62H953zM959,521H964V524.18H959zM965,521H970V524.75H965zM982,521H987V524.56H982zM994,521H998V523.85H994zM999,521H1004V524.42H999zM1005,521H1010V524.8H1005zM1011,521H1015V525.1H1011z" fill="#ff5252"/>
<path d="M10,521.5H1140" stroke="#9598a1" stroke-opacity="0.6" stroke-width="1" stroke-dasharray="5 6"/>
<polyline points="10.32,489.75 16.05,489.65 21.78,489.16 27.51,489.29 33.24,489.61 38.98,490.38 44.71,489.94 50.44,491.68 56.17,492.75 61.9,492.87 67.63,493.8 73.36,494.92 79.09,496.32 84.82,498.35 90.56,500.54 96.29,501.58 102.02,503.13 107.75,506.68 113.48,509.91 119.21,512.1 124.94,514.11 130.67,515.77 136.4,516.37 142.13,513.07 147.87,512.11 153.6,509.52 159.33,507.52 165.06,506.86 170.79,505.44 176.52,505.21 182.25,505.7 187.98,506.72 193.71,509 199.44,510.99 205.18,511.9 210.91,512.92 216.64,514.41 222.37,514.72 228.1,515.39 233.83,517.95 239.56,520.03 245.29,521.46 251.02,522.7 256.75,524.03 262.49,525.94 268.22,529.7 273.95,532.93 279.68,534.77 285.41,533.33 291.14,528.25 296.87,523.28 302.6,520.09 308.33,516.24 314.06,509.05 319.79,504.48 325.53,499.17 331.26,495.73 336.99,492.63 342.72,492.13 348.45,490.11 354.18,490.45 359.91,490.97 365.64,490.85 371.37,492.71 377.1,494.13 382.84,493.67 388.57,494.25 394.3,494.16 400.03,494.46 405.76,495.5 411.49,497.28 417.22,498.25 422.95,499.27 428.68,500.63 434.41,502.19 440.15,503.5 445.88,504.09 451.61,502.39 457.34,500.25 463.07,499.41 468.8,498.11 474.53,497.21 480.26,497.12 485.99,497.27 491.72,499.28 497.46,499.36 503.19,502.51 508.92,506.13 514.65,510.89 520.38,513.77 526.11,516.48 531.84,518.83 537.57,519.26 543.3,519.42 549.03,517.74 554.77,516.79 560.5,516.3 566.23,515.9 571.96,517.74 577.69,518.07 583.42,517.78 589.15,517.94 594.88,516.87 600.61,517.3 606.34,518.44 612.08,520.69 617.81,522.57 623.54,524.09 629.27,526.32 635,528.38 640.73,529.94 646.46,530.78 652.19,530.9 657.92,531.17 663.65,530.54 669.39,531.04 675.12,531.1 680.85,530.69 686.58,530.98 692.31,530.82 698.04,529.92 703.77,530.77 709.5,531.03 715.23,530.74 720.96,530.1 726.7,527.38 732.43,525.81 738.16,524.62 743.89,524.53 749.62,525.09 755.35,524.7 761.08,524.69 766.81,524.51 772.54,526.85 778.27,525.87 784.01,526.75 789.74,527.02 795.47,527.24 801.2,528.51 806.93,529.23 812.66,529.78 818.39,529.97 824.12,531.56 829.85,531.83 835.58,530.52 841.32,529.11 847.05,528.34 852.78,526.65 858.51,522.67 864.24,516.54 869.97,512.07 875.7,507.17 881.43,503.82 887.16,501.56 892.89,500.3 898.63,498.77 904.36,498.97 910.09,498.68 915.82,498.71 921.55,498.79 927.28,499.02 933.01,498.51 938.74,499.09 944.47,500.3 950.2,502.6 955.94,503.77 961.67,504.99 967.4,506.37 973.13,507.13 978.86,507.52 984.59,508.47 990.32,507.39 996.05,508.75 1001.78,510.04 1007.51,511.25 1013.25,512.45" stroke="#2962ff" stroke-width="1.1" fill="none" stroke-linejoin="round"/>
<polyline points="10.32,497.81 16.05,496.15 21.78,494.74 27.51,493.64 33.24,492.82 38.98,492.33 44.71,491.85 50.44,491.81 56.17,492 61.9,492.17 67.63,492.5 73.36,492.99 79.09,493.66 84.82,494.6 90.56,495.8 96.29,496.96 102.02,498.2 107.75,499.9 113.48,501.91 119.21,503.96 124.94,505.99 130.67,507.96 136.4,509.65 142.13,510.34 147.87,510.7 153.6,510.47 159.33,509.89 165.06,509.29 170.79,508.53 176.52,507.87 182.25,507.44 187.98,507.3 193.71,507.65 199.44,508.32 205.18,509.04 210.91,509.82 216.64,510.75 222.37,511.55 228.1,512.32 233.83,513.45 239.56,514.77 245.29,516.11 251.02,517.43 256.75,518.75 262.49,520.2 268.22,522.1 273.95,524.27 279.68,526.37 285.41,527.77 291.14,527.87 296.87,526.95 302.6,525.58 308.33,523.72 314.06,520.79 319.79,517.53 325.53,513.86 331.26,510.23 336.99,506.71 342.72,503.8 348.45,501.06 354.18,498.94 359.91,497.35 365.64,496.05 371.37,495.38 377.1,495.14 382.84,494.84 388.57,494.72 394.3,494.61 400.03,494.58 405.76,494.77 411.49,495.27 417.22,495.87 422.95,496.55 428.68,497.36 434.41,498.33 440.15,499.37 445.88,500.31 451.61,500.73 457.34,500.63 463.07,500.39 468.8,499.93 474.53,499.39 480.26,498.94 485.99,498.6 491.72,498.74 497.46,498.86 503.19,499.59 508.92,500.9 514.65,502.9 520.38,505.07 526.11,507.36 531.84,509.65 537.57,511.57 543.3,513.14 549.03,514.06 554.77,514.61 560.5,514.95 566.23,515.14 571.96,515.66 577.69,516.14 583.42,516.47 589.15,516.76 594.88,516.78 600.61,516.89 606.34,517.2 612.08,517.9 617.81,518.83 623.54,519.88 629.27,521.17 635,522.61 640.73,524.08 646.46,525.42 652.19,526.52 657.92,527.45 663.65,528.07 669.39,528.66 675.12,529.15 680.85,529.46 686.58,529.76 692.31,529.98 698.04,529.96 703.77,530.13 709.5,530.31 715.23,530.39 720.96,530.33 726.7,529.74 732.43,528.96 738.16,528.09 743.89,527.38 749.62,526.92 755.35,526.48 761.08,526.12 766.81,525.8 772.54,526.01 778.27,525.98 784.01,526.13 789.74,526.31 795.47,526.5 801.2,526.9 806.93,527.36 812.66,527.85 818.39,528.27 824.12,528.93 829.85,529.51 835.58,529.71 841.32,529.59 847.05,529.34 852.78,528.8 858.51,527.58 864.24,525.37 869.97,522.71 875.7,519.6 881.43,516.45 887.16,513.47 892.89,510.83 898.63,508.42 904.36,506.53 910.09,504.96 915.82,503.71 921.55,502.73 927.28,501.98 933.01,501.29 938.74,500.85 944.47,500.74 950.2,501.11 955.94,501.64 961.67,502.31 967.4,503.12 973.13,503.93 978.86,504.64 984.59,505.41 990.32,505.81 996.05,506.39 1001.78,507.12 1007.51,507.95 1013.25,508.85" stroke="#ff1a1a" stroke-width="2.35" fill="none" stroke-linejoin="round" stroke-linecap="round"/>
</g>
<rect x="1147" y="31.2" width="58" height="25" rx="4.5" fill="#fff" stroke="#ebedf3" stroke-width="1.5"/>
<text x="10" y="19" font-size="13" fill="#2a2e39" stroke="#2a2e39" stroke-width="0.25" textLength="390" lengthAdjust="spacingAndGlyphs">CryptoFXStreet published on TradingView.com, Jul 17, 2023 11:34 UTC-4</text>
<text x="18.6" y="45.8" font-size="12" fill="#131722" stroke="#131722" stroke-width="0.25" textLength="172.3" lengthAdjust="spacingAndGlyphs">Bitcoin / TetherUS, 1D, BINANCE</text>
<text x="200.7" y="45.8" font-size="12" fill="#131722" stroke="#131722" stroke-width="0.25" textLength="6.8" lengthAdjust="spacingAndGlyphs">O</text>
<text x="208.1" y="45.8" font-size="12" fill="#f23645" stroke="#f23645" stroke-width="0.25" textLength="48" lengthAdjust="spacingAndGlyphs">30232.00</text>
<text x="264.7" y="45.8" font-size="12" fill="#131722" stroke="#131722" stroke-width="0.25" textLength="6.8" lengthAdjust="spacingAndGlyphs">H</text>
<text x="272.1" y="45.8" font-size="12" fill="#f23645" stroke="#f23645" stroke-width="0.25" textLength="47.1" lengthAdjust="spacingAndGlyphs">30336.96</text>
<text x="328.1" y="45.8" font-size="12" fill="#131722" stroke="#131722" stroke-width="0.25" textLength="5.4" lengthAdjust="spacingAndGlyphs">L</text>
<text x="334.1" y="45.8" font-size="12" fill="#f23645" stroke="#f23645" stroke-width="0.25" textLength="47.3" lengthAdjust="spacingAndGlyphs">29965.39</text>
<text x="389.3" y="45.8" font-size="12" fill="#131722" stroke="#131722" stroke-width="0.25" textLength="6.7" lengthAdjust="spacingAndGlyphs">C</text>
<text x="396.6" y="45.8" font-size="12" fill="#f23645" stroke="#f23645" stroke-width="0.25" textLength="47.8" lengthAdjust="spacingAndGlyphs">30172.00</text>
<text x="452.3" y="45.8" font-size="12" fill="#f23645" stroke="#f23645" stroke-width="0.25" textLength="84" lengthAdjust="spacingAndGlyphs">−59.99 (−0.20%)</text>
<text x="544.7" y="45.8" font-size="12" fill="#131722" stroke="#131722" stroke-width="0.25" textLength="15.2" lengthAdjust="spacingAndGlyphs">Vol</text>
<text x="560.7" y="45.8" font-size="12" fill="#f23645" stroke="#f23645" stroke-width="0.25" textLength="42.5" lengthAdjust="spacingAndGlyphs">16.272K</text>
<text x="18.6" y="62.5" font-size="12" fill="#131722" stroke="#131722" stroke-width="0.25" textLength="105.8" lengthAdjust="spacingAndGlyphs">EMA 20/50/100/200</text>
<text x="133.1" y="62.5" font-size="12" fill="#f23645" stroke="#f23645" stroke-width="0.25" textLength="47.2" lengthAdjust="spacingAndGlyphs">29234.17</text>
<text x="188.9" y="62.5" font-size="12" fill="#4caf50" stroke="#4caf50" stroke-width="0.25" textLength="47" lengthAdjust="spacingAndGlyphs">28130.40</text>
<text x="244.3" y="62.5" font-size="12" fill="#2962ff" stroke="#2962ff" stroke-width="0.25" textLength="47.5" lengthAdjust="spacingAndGlyphs">26562.22</text>
<text x="18.3" y="440.5" font-size="12" fill="#131722" stroke="#131722" stroke-width="0.25" textLength="17.5" lengthAdjust="spacingAndGlyphs">RSI</text>
<text x="41.9" y="440.5" font-size="12" fill="#7e57c2" stroke="#7e57c2" stroke-width="0.25" textLength="28.7" lengthAdjust="spacingAndGlyphs">52.55</text>
<text x="78.8" y="440.5" font-size="12" fill="#ffeb3b" stroke="#ffeb3b" stroke-width="0.25" textLength="28.7" lengthAdjust="spacingAndGlyphs">58.18</text>
<text x="115.7" y="440.5" font-size="12" fill="#131722" stroke="#131722" stroke-width="0.25" textLength="7.8" lengthAdjust="spacingAndGlyphs">∅</text>
<text x="130.5" y="440.5" font-size="12" fill="#131722" stroke="#131722" stroke-width="0.25" textLength="7.8" lengthAdjust="spacingAndGlyphs">∅</text>
<text x="17.7" y="500.1" font-size="12" fill="#131722" stroke="#131722" stroke-width="0.25" textLength="30.4" lengthAdjust="spacingAndGlyphs">MACD</text>
<text x="55.9" y="500.1" font-size="12" fill="#ff5252" stroke="#ff5252" stroke-width="0.25" textLength="40.4" lengthAdjust="spacingAndGlyphs">−161.26</text>
<text x="105.5" y="500.1" font-size="12" fill="#2962ff" stroke="#2962ff" stroke-width="0.25" textLength="34.9" lengthAdjust="spacingAndGlyphs">407.84</text>
<text x="148.2" y="500.1" font-size="12" fill="#ff1a1a" stroke="#ff1a1a" stroke-width="0.25" textLength="35.2" lengthAdjust="spacingAndGlyphs">569.09</text>
<text x="51.75" y="558.2" font-size="12" fill="#131722" stroke="#131722" stroke-width="0.55" textLength="19.5" lengthAdjust="spacingAndGlyphs">Feb</text>
<text x="136.6" y="558.2" font-size="12" fill="#131722" stroke="#131722" stroke-width="0.55" textLength="11.8" lengthAdjust="spacingAndGlyphs">15</text>
<text x="212.85" y="558.2" font-size="12" fill="#131722" stroke="#131722" stroke-width="0.55" textLength="19.3" lengthAdjust="spacingAndGlyphs">Mar</text>
<text x="296.6" y="558.2" font-size="12" fill="#131722" stroke="#131722" stroke-width="0.55" textLength="11.8" lengthAdjust="spacingAndGlyphs">15</text>
<text x="390.65" y="558.2" font-size="12" fill="#131722" stroke="#131722" stroke-width="0.55" textLength="19.7" lengthAdjust="spacingAndGlyphs">Apr</text>
<text x="486" y="558.2" font-size="12" fill="#131722" stroke="#131722" stroke-width="0.55" textLength="11" lengthAdjust="spacingAndGlyphs">17</text>
<text x="560.5" y="558.2" font-size="12" fill="#131722" stroke="#131722" stroke-width="0.55" textLength="22" lengthAdjust="spacingAndGlyphs">May</text>
<text x="646.6" y="558.2" font-size="12" fill="#131722" stroke="#131722" stroke-width="0.55" textLength="11.8" lengthAdjust="spacingAndGlyphs">15</text>
<text x="739" y="558.2" font-size="12" fill="#131722" stroke="#131722" stroke-width="0.55" textLength="21" lengthAdjust="spacingAndGlyphs">Jun</text>
<text x="823.6" y="558.2" font-size="12" fill="#131722" stroke="#131722" stroke-width="0.55" textLength="11.8" lengthAdjust="spacingAndGlyphs">15</text>
<text x="913.25" y="558.2" font-size="12" fill="#131722" stroke="#131722" stroke-width="0.55" textLength="16.5" lengthAdjust="spacingAndGlyphs">Jul</text>
<text x="1008" y="558.2" font-size="12" fill="#131722" stroke="#131722" stroke-width="0.55" textLength="11" lengthAdjust="spacingAndGlyphs">17</text>
<text x="1089.25" y="558.2" font-size="12" fill="#131722" stroke="#131722" stroke-width="0.55" textLength="20.5" lengthAdjust="spacingAndGlyphs">Aug</text>
<text x="1151.3" y="196.9" font-size="12" fill="#131722" stroke="#131722" stroke-width="0.25" textLength="48.3" lengthAdjust="spacingAndGlyphs">28000.00</text>
<text x="1151.3" y="245.4" font-size="12" fill="#131722" stroke="#131722" stroke-width="0.25" textLength="48.3" lengthAdjust="spacingAndGlyphs">26000.00</text>
<text x="1151.3" y="293.9" font-size="12" fill="#131722" stroke="#131722" stroke-width="0.25" textLength="48.3" lengthAdjust="spacingAndGlyphs">24000.00</text>
<text x="1151.3" y="342.4" font-size="12" fill="#131722" stroke="#131722" stroke-width="0.25" textLength="48.3" lengthAdjust="spacingAndGlyphs">22000.00</text>
<text x="1151.3" y="437.03" font-size="12" fill="#131722" stroke="#131722" stroke-width="0.25" textLength="28.9" lengthAdjust="spacingAndGlyphs">80.00</text>
<text x="1151.3" y="470.53" font-size="12" fill="#131722" stroke="#131722" stroke-width="0.25" textLength="28.9" lengthAdjust="spacingAndGlyphs">40.00</text>
<rect x="1109.5" y="82.8" width="32" height="17" fill="#e3effd"/><rect x="1143" y="82.8" width="62" height="17" fill="#e3effd"/>
<text x="1113.5" y="95.5" font-size="12" fill="#131722" stroke="#131722" stroke-width="0.25" textLength="22.3" lengthAdjust="spacingAndGlyphs">High</text>
<text x="1151.3" y="95.5" font-size="12" fill="#131722" stroke="#131722" stroke-width="0.25" textLength="48.3" lengthAdjust="spacingAndGlyphs">31804.20</text>
<rect x="1111" y="374" width="30.7" height="16.3" fill="#e3effd"/><rect x="1143" y="374" width="62" height="16.3" fill="#e3effd"/>
<text x="1116.5" y="386.6" font-size="12" fill="#131722" stroke="#131722" stroke-width="0.25" textLength="20.5" lengthAdjust="spacingAndGlyphs">Low</text>
<text x="1151.3" y="386.6" font-size="12" fill="#131722" stroke="#131722" stroke-width="0.25" textLength="48.3" lengthAdjust="spacingAndGlyphs">19549.09</text>
<rect x="1143" y="100.3" width="62" height="16.7" rx="2" fill="#2962ff"/><text x="1151.3" y="112.95" font-size="12" fill="#fff" stroke="#fff" stroke-width="0.25" textLength="48.3" lengthAdjust="spacingAndGlyphs">31500.00</text>
<rect x="1143" y="132" width="62" height="16.8" rx="2" fill="#f23645"/><text x="1151.3" y="144.7" font-size="12" fill="#fff" stroke="#fff" stroke-width="0.25" textLength="48.3" lengthAdjust="spacingAndGlyphs">30172.00</text>
<rect x="1143" y="149" width="62" height="16.6" rx="2" fill="#4caf50"/><text x="1151.3" y="161.6" font-size="12" fill="#fff" stroke="#fff" stroke-width="0.25" textLength="48.3" lengthAdjust="spacingAndGlyphs">29872.00</text>
<rect x="1143" y="196.4" width="62" height="16.4" rx="2" fill="#000"/><text x="1151.3" y="208.9" font-size="12" fill="#fff" stroke="#fff" stroke-width="0.25" textLength="48.3" lengthAdjust="spacingAndGlyphs">27500.00</text>
<rect x="1143" y="429.8" width="42.7" height="17.1" rx="2" fill="#ffeb3b"/><text x="1151.3" y="442.65" font-size="12" fill="#131722" stroke="#131722" stroke-width="0.25" textLength="28.9" lengthAdjust="spacingAndGlyphs">58.18</text>
<rect x="1143" y="447.2" width="42.7" height="16.5" rx="2" fill="#7e57c2"/><text x="1151.3" y="459.75" font-size="12" fill="#fff" stroke="#fff" stroke-width="0.25" textLength="28.9" lengthAdjust="spacingAndGlyphs">52.55</text>
<rect x="1143" y="483.2" width="48.7" height="16.6" rx="2" fill="#ff1a1a"/><text x="1151.3" y="495.8" font-size="12" fill="#fff" stroke="#fff" stroke-width="0.25" textLength="35.3" lengthAdjust="spacingAndGlyphs">569.09</text>
<rect x="1143" y="500.2" width="48.7" height="16.6" rx="2" fill="#2962ff"/><text x="1151.3" y="512.8" font-size="12" fill="#fff" stroke="#fff" stroke-width="0.25" textLength="35.3" lengthAdjust="spacingAndGlyphs">407.84</text>
<rect x="1143" y="517" width="55.9" height="16.6" rx="2" fill="#ff5252"/><text x="1151.3" y="529.6" font-size="12" fill="#fff" stroke="#fff" stroke-width="0.25" textLength="42.1" lengthAdjust="spacingAndGlyphs">−161.26</text>
<g fill="#131722"><path d="M10,580.1h9.3v9.5h-5.5v-6.1h-3.8z"/><circle cx="21.55" cy="581.8" r="1.55"/><path d="M24.5,580.1h5.1l-3.4,9.5h-5.4z"/></g>
<text x="33.2" y="589.7" font-size="12.7" fill="#1e222d" stroke="#1e222d" stroke-width="0.25" textLength="69.8" lengthAdjust="spacingAndGlyphs">TradingView</text>
</svg>
</body></html>
